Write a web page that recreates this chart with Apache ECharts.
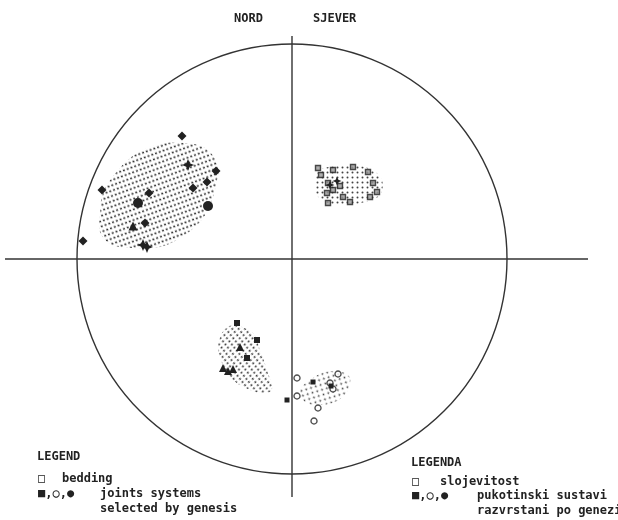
<!DOCTYPE html>
<html>
<head>
<meta charset="utf-8">
<script src="https://cdn.jsdelivr.net/npm/echarts@6/dist/echarts.min.js"></script>
<style>
  html, body { margin: 0; background: #fff; }
  #chart { width: 618px; height: 520px; }
</style>
</head>
<body>
<div id="chart"></div>
<script>
// net coordinates: centre of the net is 0,0, the net radius is 215
const netRadius = 215;

// the cross through the net
const crossH = [[-287, 0], [296, 0]];
const crossV = [[0, 223], [0, -238]];

// outlines of the dotted contour fields
const nwField = [[-192, 44], [-189, 66], [-174, 89], [-155, 106], [-132, 115], [-107, 116], [-87, 111], [-74, 94],
  [-76, 74], [-82, 54], [-92, 37], [-112, 21], [-132, 12], [-157, 11], [-180, 14], [-192, 27]];
const neField = [[23, 79], [28, 89], [43, 93], [63, 94], [80, 89], [90, 79], [88, 64], [73, 57], [53, 54], [33, 57], [23, 67]];
const swField = [[-57, -66], [-39, -74], [-32, -91], [-25, -111], [-20, -131], [-29, -134], [-42, -131], [-59, -121],
  [-70, -104], [-74, -88], [-70, -74], [-64, -68]];
const seField = [[8, -131], [18, -121], [33, -113], [50, -113], [58, -119], [55, -133], [43, -143], [26, -146], [13, -143]];

// poles
const nwDiamonds = [[-110, 123], [-76, 88], [-85, 77], [-99, 71], [-190, 69], [-143, 66], [-147, 36], [-209, 18]];
const nwCircles = [[-154, 56], [-84, 53]];
const nwTriangles = [[-159, 33]];
const nwStars = [[-104, 94], [-149, 14], [-145, 12]];
const neSquares = [[26, 91], [41, 89], [61, 92], [76, 87], [29, 84], [36, 76], [41, 69], [48, 73], [35, 66],
  [81, 76], [85, 67], [58, 57], [36, 56], [78, 62], [51, 62]];
const neStars = [[38, 74], [45, 78]];
const swSquares = [[-55, -64], [-35, -81], [-45, -99]];
const swTriangles = [[-52, -88], [-69, -109], [-64, -112], [-59, -110]];
const seCircles = [[5, -119], [5, -137], [38, -124], [46, -115], [41, -130], [26, -149], [22, -162]];
const seSquares = [[21, -123], [39, -127], [-5, -141]];

// texts
const headings = ['NORD', 'SJEVER'];
const legendEn = ['LEGEND', '\u25A1', 'bedding', '\u25A0,\u25CB,\u25CF', 'joints systems', 'selected by genesis'];
const legendHr = ['LEGENDA', '\u25A1', 'slojevitost', '\u25A0,\u25CB,\u25CF', 'pukotinski sustavi', 'razvrstani po genezi'];

const ink = '#222';
const font = 'bold 12px "DejaVu Sans Mono"';

function dotPattern(w, h, r, color, rotation) {
  const c = document.createElement('canvas');
  c.width = w;
  c.height = h;
  const ctx = c.getContext('2d');
  ctx.fillStyle = color;
  ctx.beginPath();
  ctx.arc(w / 2, h / 2, r, 0, Math.PI * 2);
  ctx.fill();
  return { image: c, repeat: 'repeat', rotation: rotation };
}

const fields = [
  { outline: nwField, fill: dotPattern(4, 5, 1.0, '#222', -0.35) },
  { outline: neField, fill: dotPattern(5, 5, 1.0, '#444', 0) },
  { outline: swField, fill: dotPattern(4, 5, 0.95, '#2a2a2a', 0.9) },
  { outline: seField, fill: dotPattern(5, 5, 0.9, '#444', -0.3) },
];

const starPath = 'path://M0,-10L3,-3L10,0L3,3L0,10L-3,3L-10,0L-3,-3Z';

function scatter(data, symbol, size, extra) {
  return Object.assign({
    type: 'scatter',
    data: data,
    symbol: symbol,
    symbolSize: size,
    itemStyle: { color: ink, opacity: 1 },
    silent: true,
    z: 5,
  }, extra || {});
}

function text(str, x, y) {
  return { type: 'text', left: x, top: y, style: { text: str, font: font, fill: ink } };
}

const chart = echarts.init(document.getElementById('chart'));

chart.setOption({
  backgroundColor: '#fff',
  animation: false,
  grid: { left: 0, top: 0, right: 0, bottom: 0 },
  xAxis: { type: 'value', min: -292, max: 326, show: false },
  yAxis: { type: 'value', min: -261, max: 259, show: false },
  polar: { center: [292, 259], radius: netRadius },
  angleAxis: {
    type: 'value', min: 0, max: 360,
    axisLine: { show: true, lineStyle: { color: '#333', width: 1.4 } },
    axisTick: { show: false }, axisLabel: { show: false }, splitLine: { show: false },
  },
  radiusAxis: { show: false, min: 0, max: 1 },
  series: [
    {
      type: 'custom',
      data: fields.map((f, i) => i),
      silent: true,
      z: 2,
      renderItem: (params, api) => {
        const f = fields[params.dataIndex];
        return {
          type: 'polygon',
          shape: { points: f.outline.map((p) => api.coord(p)), smooth: 0.35 },
          style: { fill: f.fill, stroke: null },
        };
      },
    },
    { type: 'line', data: crossH, symbol: 'none', silent: true, lineStyle: { color: '#333', width: 1.4 } },
    { type: 'line', data: crossV, symbol: 'none', silent: true, lineStyle: { color: '#333', width: 1.4 } },
    scatter(nwDiamonds, 'diamond', 9),
    scatter(nwCircles, 'circle', 10),
    scatter(nwTriangles, 'triangle', 9),
    scatter(nwStars, starPath, 12),
    scatter(neSquares, 'rect', 5, { itemStyle: { color: '#999', borderColor: '#222', borderWidth: 1.4 } }),
    scatter(neStars, starPath, 9),
    scatter(swSquares, 'rect', 6),
    scatter(swTriangles, 'triangle', 8),
    scatter(seCircles, 'circle', 6, { itemStyle: { color: '#fff', borderColor: '#222', borderWidth: 1.4 } }),
    scatter(seSquares, 'rect', 5),
  ],
  graphic: [
    text(headings[0], 234, 13),
    text(headings[1], 313, 13),
    text(legendEn[0], 37, 451),
    text(legendEn[1], 38, 473),
    text(legendEn[2], 62, 473),
    text(legendEn[3], 38, 488),
    text(legendEn[4], 100, 488),
    text(legendEn[5], 100, 503),
    text(legendHr[0], 411, 457),
    text(legendHr[1], 412, 476),
    text(legendHr[2], 440, 476),
    text(legendHr[3], 412, 490),
    text(legendHr[4], 477, 490),
    text(legendHr[5], 477, 505),
  ],
});
</script>
</body>
</html>
